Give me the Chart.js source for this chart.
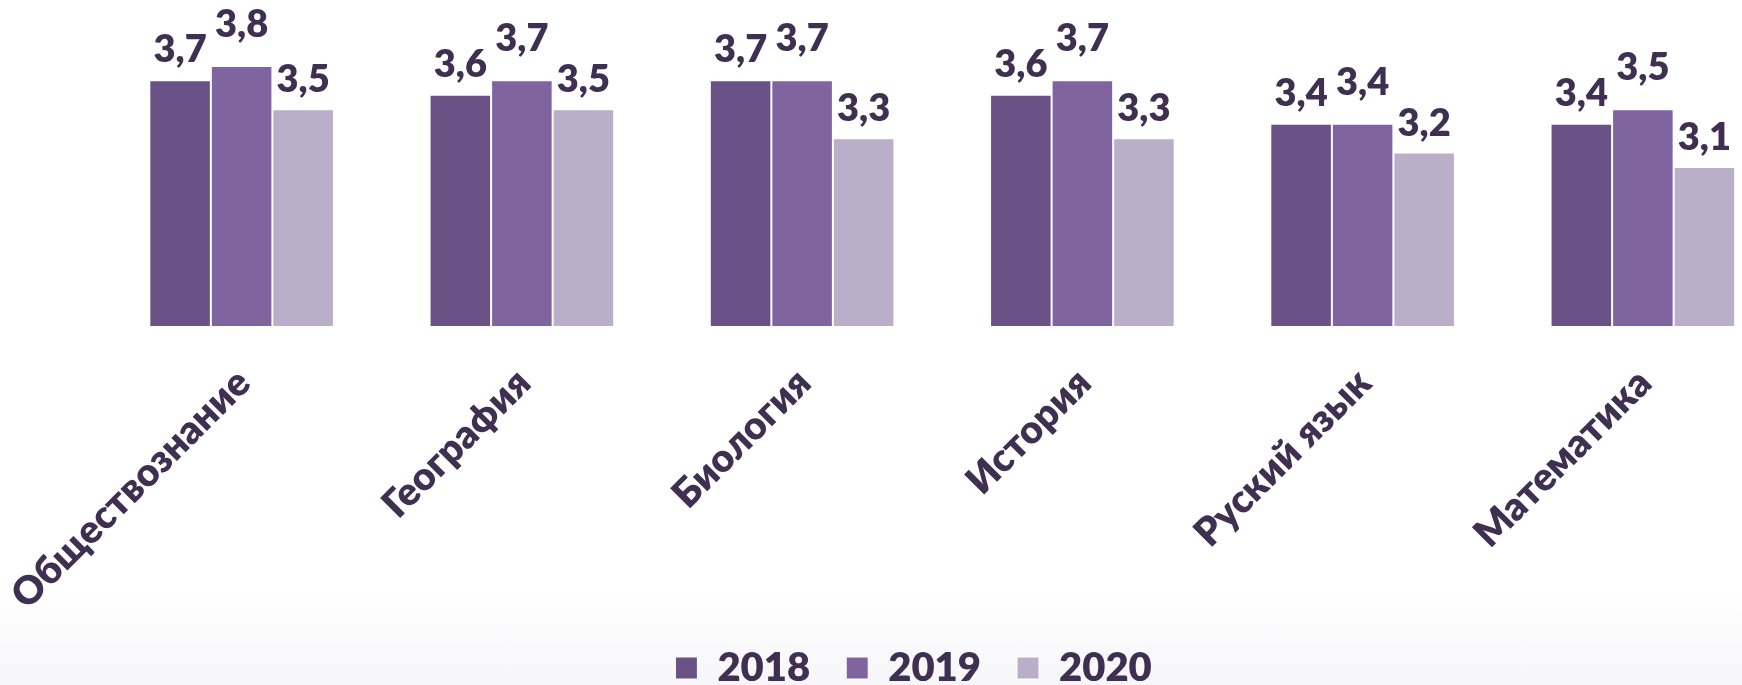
<!DOCTYPE html>
<html>
<head>
<meta charset="utf-8">
<script src="https://cdn.jsdelivr.net/npm/chart.js@4"></script>
<style>
  html, body { margin:0; padding:0; width:1742px; height:685px; overflow:hidden;
    background: linear-gradient(to bottom, #ffffff 0px, #ffffff 590px, #f6f6f9 685px); }
  #c { position:absolute; left:0; top:0; }
</style>
</head>
<body>
<canvas id="c" width="1783" height="698"></canvas>
<script>
const categories = ['Обществознание', 'География', 'Биология', 'История', 'Руский язык', 'Математика'];
const seriesNames = ['2018', '2019', '2020'];
const values2018 = [3.7, 3.6, 3.7, 3.6, 3.4, 3.4];
const values2019 = [3.8, 3.7, 3.7, 3.7, 3.4, 3.5];
const values2020 = [3.5, 3.5, 3.3, 3.3, 3.2, 3.1];

const colors = ['#6a5186', '#8064a0', '#b9afc9'];
const labelLift = [18, 29, 17];
const textColor = '#3f3052';
const fontFamily = 'Lato, "Open Sans", "Noto Sans", sans-serif';
const heavy = 800;

const valueLabels = {
  id: 'valueLabels',
  afterDatasetsDraw(chart) {
    const ctx = chart.ctx;
    ctx.save();
    ctx.font = heavy + ' 38px ' + fontFamily;
    ctx.fillStyle = textColor;
    ctx.textAlign = 'center';
    ctx.textBaseline = 'alphabetic';
    chart.data.datasets.forEach((ds, di) => {
      const meta = chart.getDatasetMeta(di);
      meta.data.forEach((bar, i) => {
        const txt = ds.data[i].toFixed(1).replace('.', ',');
        ctx.fillText(txt, bar.x, bar.y - labelLift[di]);
      });
    });
    ctx.restore();
  }
};

const seriesValues = [values2018, values2019, values2020];

new Chart(document.getElementById('c'), {
  type: 'bar',
  data: {
    labels: categories,
    datasets: seriesNames.map((n, i) => ({
      label: n,
      data: seriesValues[i],
      backgroundColor: colors[i],
      borderColor: '#ffffff',
      borderWidth: 1,
      categoryPercentage: 0.6587,
      barPercentage: 1.0
    }))
  },
  options: {
    responsive: false,
    animation: false,
    layout: { padding: { top: 37, left: 44.2, right: 0, bottom: 0 } },
    plugins: {
      legend: {
        position: 'bottom',
        labels: {
          color: textColor,
          font: { family: fontFamily, size: 40, weight: heavy },
          boxWidth: 22,
          boxHeight: 22,
          padding: 36
        }
      },
      tooltip: { enabled: false }
    },
    scales: {
      x: {
        grid: { display: false, drawTicks: false },
        border: { display: false },
        ticks: {
          autoSkip: false,
          minRotation: 45,
          maxRotation: 45,
          padding: 34,
          labelOffset: 2,
          color: textColor,
          font: { family: fontFamily, size: 39, weight: heavy }
        },
        afterFit(s) { s.height = 286; s.paddingLeft = 0; s.paddingRight = 0; }
      },
      y: {
        min: 2,
        max: 4,
        grid: { display: false },
        border: { display: false },
        ticks: { display: false },
        afterFit(s) { s.width = 57.3; }
      }
    }
  },
  plugins: [valueLabels]
});
</script>
</body>
</html>
